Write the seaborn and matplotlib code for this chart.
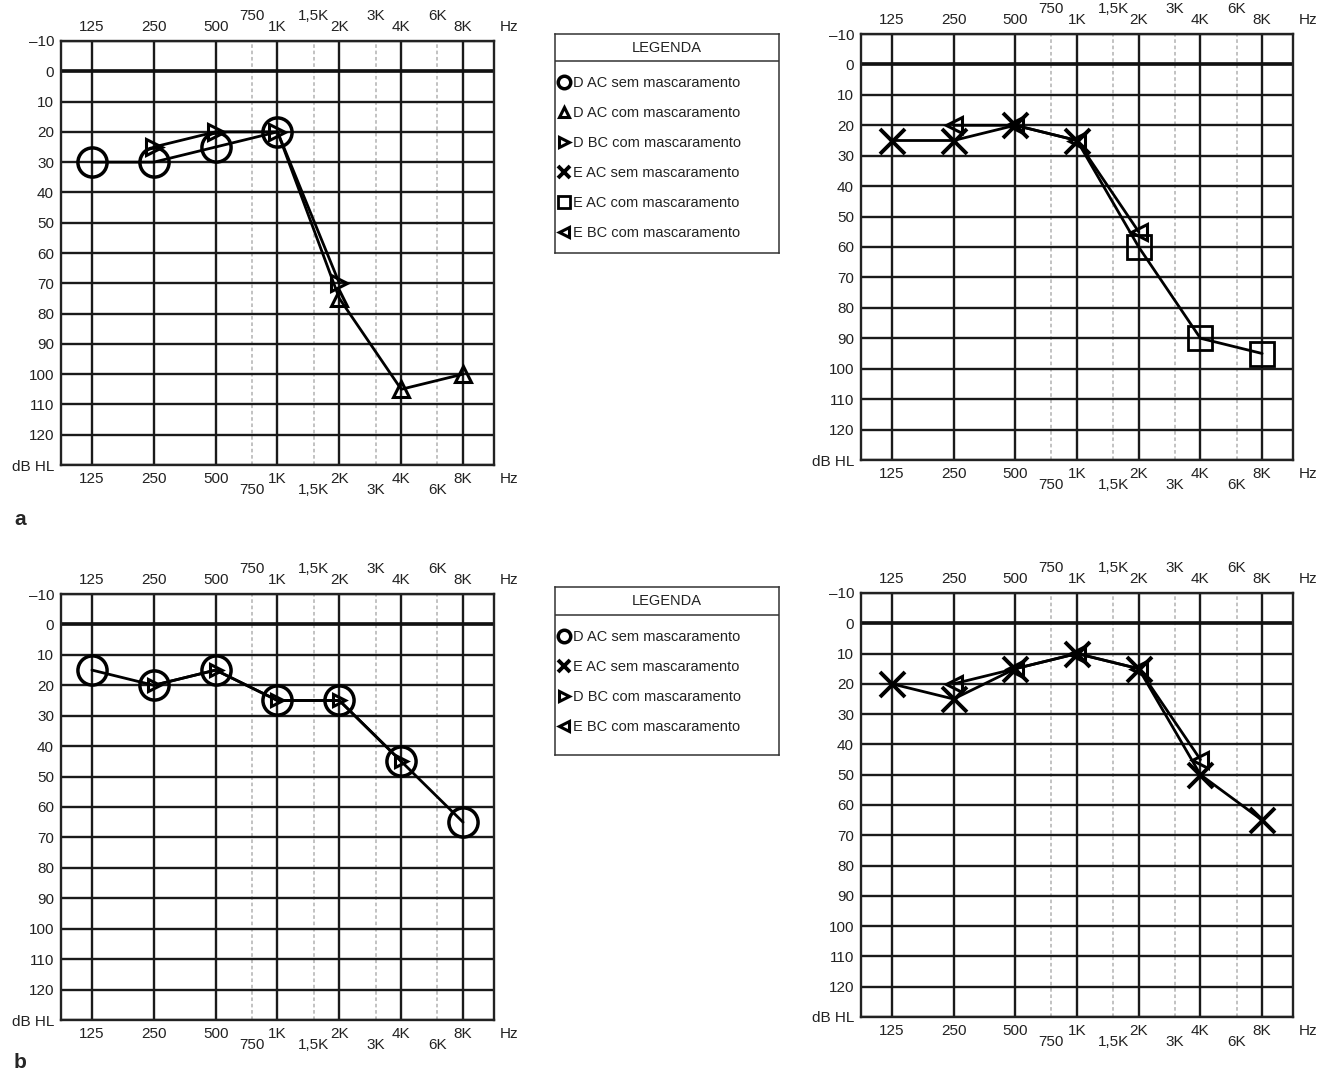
import matplotlib
matplotlib.use("Agg")
import matplotlib.pyplot as plt
from matplotlib.lines import Line2D
import seaborn as sns

# frequencies (Hz) and labels
freqs = [125, 250, 500, 1000, 2000, 4000, 8000]
freq_labels = ['125', '250', '500', '1K', '2K', '4K', '8K']
mid_freqs = [750, 1500, 3000, 6000]
mid_labels = ['750', '1,5K', '3K', '6K']
db_ticks = list(range(-10, 131, 10))
db_labels = ['\u201310'] + [str(v) for v in range(0, 121, 10)] + ['dB HL']

# a - orelha direita (D)
a_d_ac_freq = [125, 250, 500, 1000]
a_d_ac_db = [30, 30, 25, 20]
a_d_acm_freq = [2000, 4000, 8000]
a_d_acm_db = [75, 105, 100]
a_d_bc_freq = [250, 500, 1000, 2000]
a_d_bc_db = [25, 20, 20, 70]

# a - orelha esquerda (E)
a_e_ac_freq = [125, 250, 500, 1000]
a_e_ac_db = [25, 25, 20, 25]
a_e_acm_freq = [2000, 4000, 8000]
a_e_acm_db = [60, 90, 95]
a_e_bc_freq = [250, 500, 1000, 2000]
a_e_bc_db = [20, 20, 25, 55]

# b - D and E
b_d_ac_db = [15, 20, 15, 25, 25, 45, 65]
b_d_bc_freq = [250, 500, 1000, 2000, 4000]
b_d_bc_db = [20, 15, 25, 25, 45]
b_e_ac_db = [20, 25, 15, 10, 15, 50, 65]
b_e_bc_freq = [250, 500, 1000, 2000, 4000]
b_e_bc_db = [20, 15, 10, 15, 45]

legend_a = ['D AC sem mascaramento', 'D AC com mascaramento', 'D BC com mascaramento',
            'E AC sem mascaramento', 'E AC com mascaramento', 'E BC com mascaramento']
legend_b = ['D AC sem mascaramento', 'E AC sem mascaramento',
            'D BC com mascaramento', 'E BC com mascaramento']

# symbol per series: marker, size on chart, size in legend, edge width
symbols = {
    'D AC sem mascaramento': ('o', 21, 9, 2.5),
    'D AC com mascaramento': ('^', 11, 7, 2.2),
    'D BC com mascaramento': ('>', 11, 7, 2.2),
    'E AC sem mascaramento': ('x', 18, 9, 2.8),
    'E AC com mascaramento': ('s', 17, 9, 2.0),
    'E BC com mascaramento': ('<', 11, 7, 2.2),
}

sns.set_style('white')
plt.rcParams['font.family'] = ['Liberation Sans', 'DejaVu Sans']

W, H = 1317, 1074
fig = plt.figure(figsize=(W / 100, H / 100), dpi=100)


def px_axes(x0, y0, x1, y1):
    return fig.add_axes([x0 / W, 1 - y1 / H, (x1 - x0) / W, (y1 - y0) / H])


def audiogram(ax):
    ax.set_xscale('log', base=2)
    ax.set_xlim(125 / 2 ** 0.5, 8000 * 2 ** 0.5)
    ax.set_ylim(130, -10)
    ax.set_xticks(freqs)
    ax.set_xticklabels(freq_labels)
    ax.set_xticks(mid_freqs, minor=True)
    ax.set_xticklabels(mid_labels, minor=True)
    ax.set_yticks(db_ticks)
    ax.set_yticklabels(db_labels)
    ax.tick_params(axis='x', which='major', length=0, pad=5, labeltop=True,
                   labelbottom=True, labelsize=11, colors='#222222')
    ax.tick_params(axis='x', which='minor', length=0, pad=13, labeltop=True,
                   labelbottom=True, labelsize=11, colors='#222222')
    ax.tick_params(axis='y', length=0, pad=5, labelsize=11, colors='#222222')
    ax.grid(True, which='major', color='#1a1a1a', lw=1.7)
    ax.grid(True, which='minor', axis='x', color='#bdbdbd', lw=1.3, ls=(0, (2, 1.5)))
    ax.axhline(0, color='#111111', lw=2.6)
    for s in ax.spines.values():
        s.set_color('#222222')
        s.set_linewidth(1.7)
    for yy in (1.0, 0.0):
        va = 'bottom' if yy == 1.0 else 'top'
        off = 7 if yy == 1.0 else -7
        ax.annotate('Hz', xy=(1.0, yy), xycoords='axes fraction', xytext=(15, off),
                    textcoords='offset pixels', ha='center', va=va, fontsize=11,
                    color='#222222')


def line(ax, x, y):
    sns.lineplot(x=x, y=y, ax=ax, color='black', lw=2, zorder=3)


def marks(ax, x, y, name, scale=1.0):
    m, ms, _, mew = symbols[name]
    sns.lineplot(x=x, y=y, ax=ax, color='black', linestyle='none', marker=m,
                 ms=ms * scale, mfc='none', mec='black', mew=mew, zorder=4)


def legend_box(x0, y0, x1, y1, ydiv, names):
    lax = px_axes(x0, y0, x1, y1)
    lax.set_xlim(0, 1)
    lax.set_ylim(y1, y0)
    lax.set_xticks([])
    lax.set_yticks([])
    for s in lax.spines.values():
        s.set_color('#333333')
        s.set_linewidth(1.1)
    lax.axhline(ydiv, color='#333333', lw=1.1)
    lax.text(0.5, (y0 + ydiv) / 2, 'LEGENDA', ha='center', va='center', fontsize=10.5,
             color='#222222')
    handles = []
    for n in names:
        m, _, ms, mew = symbols[n]
        handles.append(Line2D([0], [0], marker=m, ls='none', color='black', mfc='white',
                              mec='black', ms=ms, mew=mew, label=n))
    lax.legend(handles=handles, loc='upper left', bbox_to_anchor=(0.0, (y1 - ydiv - 12) / (y1 - y0)),
               frameon=False, fontsize=10.5, handlelength=0.8, handletextpad=0.2,
               labelspacing=1.1, borderaxespad=0.1, borderpad=0.1, labelcolor='#222222')


# a - right ear (D)
ax1 = px_axes(61, 41, 494, 465)
audiogram(ax1)
line(ax1, a_d_ac_freq + a_d_acm_freq, a_d_ac_db + a_d_acm_db)
line(ax1, a_d_bc_freq, a_d_bc_db)
marks(ax1, a_d_ac_freq, a_d_ac_db, 'D AC sem mascaramento')
marks(ax1, a_d_acm_freq, a_d_acm_db, 'D AC com mascaramento')
marks(ax1, a_d_bc_freq, a_d_bc_db, 'D BC com mascaramento')

# a - left ear (E)
ax2 = px_axes(861, 34, 1293, 460)
audiogram(ax2)
line(ax2, a_e_ac_freq + a_e_acm_freq, a_e_ac_db + a_e_acm_db)
line(ax2, a_e_bc_freq, a_e_bc_db)
marks(ax2, a_e_ac_freq, a_e_ac_db, 'E AC sem mascaramento')
marks(ax2, a_e_acm_freq, a_e_acm_db, 'E AC com mascaramento')
marks(ax2, a_e_bc_freq, a_e_bc_db, 'E BC com mascaramento')

# b - right ear (D)
ax3 = px_axes(61, 594, 494, 1020)
audiogram(ax3)
line(ax3, freqs, b_d_ac_db)
line(ax3, b_d_bc_freq, b_d_bc_db)
marks(ax3, freqs, b_d_ac_db, 'D AC sem mascaramento')
marks(ax3, b_d_bc_freq, b_d_bc_db, 'D BC com mascaramento', scale=0.75)

# b - left ear (E)
ax4 = px_axes(861, 593, 1293, 1017)
audiogram(ax4)
line(ax4, freqs, b_e_ac_db)
line(ax4, b_e_bc_freq, b_e_bc_db)
marks(ax4, freqs, b_e_ac_db, 'E AC sem mascaramento')
marks(ax4, b_e_bc_freq, b_e_bc_db, 'E BC com mascaramento')

legend_box(555, 34, 779, 253, 61, legend_a)
legend_box(555, 587, 779, 755, 615, legend_b)

fig.text(14 / W, 1 - 520 / H, 'a', fontsize=15, fontweight='bold', ha='left', va='center')
fig.text(14 / W, 1 - 1062 / H, 'b', fontsize=15, fontweight='bold', ha='left', va='center')

fig.savefig('out.png', dpi=100)
